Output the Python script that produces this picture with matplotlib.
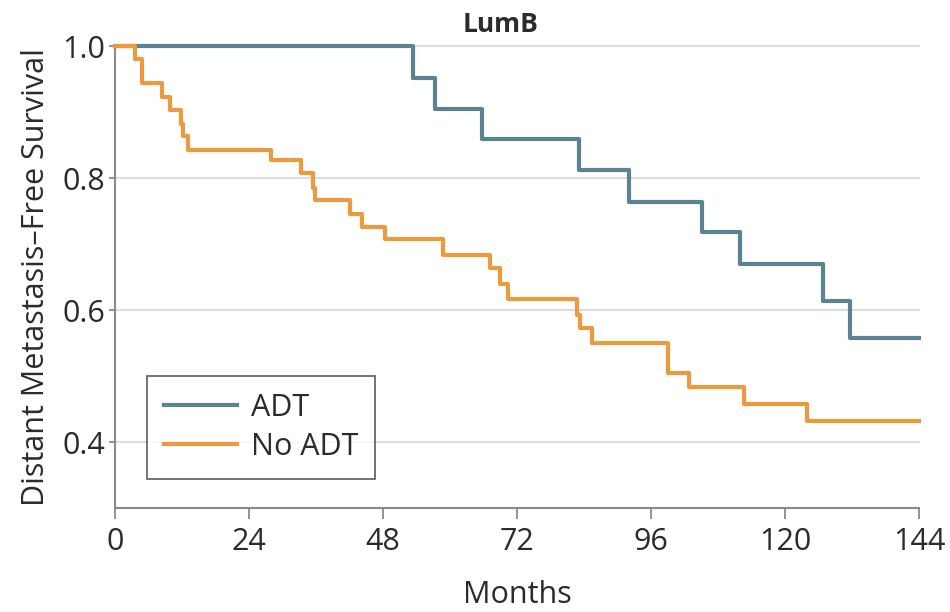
import matplotlib.pyplot as plt
import numpy as np

plt.rcParams['font.family'] = ['Liberation Sans Narrow', 'Open Sans', 'DejaVu Sans']

# Kaplan-Meier steps (months, survival)
adt_t = [0, 53.3, 57.3, 65.7, 83.1, 92.1, 105.1, 111.9, 126.8, 131.7, 144]
adt_s = [1.0, 0.952, 0.904, 0.859, 0.812, 0.763, 0.718, 0.669, 0.614, 0.557, 0.557]

noadt_t = [0, 3.6, 4.9, 8.5, 9.9, 11.8, 12.2, 13.1, 27.9, 33.3, 35.4, 35.8, 42.0,
           44.2, 48.4, 58.7, 67.2, 69.0, 70.4, 82.7, 83.3, 85.5, 99.0, 102.8,
           112.7, 124.0, 144]
noadt_s = [1.0, 0.980, 0.944, 0.922, 0.903, 0.882, 0.863, 0.843, 0.828, 0.807,
           0.785, 0.767, 0.746, 0.726, 0.707, 0.683, 0.663, 0.639, 0.616, 0.593,
           0.572, 0.550, 0.504, 0.483, 0.457, 0.432, 0.432]

xticks = [0, 24, 48, 72, 96, 120, 144]
yticks = [0.4, 0.6, 0.8, 1.0]

blue = '#5b8391'
orange = '#eb9a3e'
txt = '#2b2b2b'

fig = plt.figure(figsize=(9.5, 6.12), dpi=100)
ax = fig.add_axes([115/950, 1-508/612, 804/950, 462/612])

for y in yticks:
    ax.axhline(y, color='#dcdcdc', lw=1.5, zorder=0, clip_on=False)

ax.step(adt_t, adt_s, where='post', color=blue, lw=3, label='ADT', clip_on=False, zorder=3)
ax.step(noadt_t, noadt_s, where='post', color=orange, lw=3, label='No ADT', clip_on=False, zorder=4)

ax.set_xlim(0, 144)
ax.set_ylim(0.3, 1.0)
ax.set_xticks(xticks)
ax.set_yticks(yticks)
ax.set_yticklabels(['%.1f' % v for v in yticks])

for s in ['top', 'right']:
    ax.spines[s].set_visible(False)
for s in ['left', 'bottom']:
    ax.spines[s].set_color('#8a8a8a')
    ax.spines[s].set_linewidth(1.5)
ax.tick_params(axis='x', length=8, width=1.3, color='#8a8a8a', labelsize=22,
               labelcolor=txt, pad=6)
ax.tick_params(axis='y', length=4, width=1.3, color='#8a8a8a', labelsize=22,
               labelcolor=txt, pad=3)

ax.set_xlabel('Months', fontsize=22, color=txt, labelpad=16)
ax.set_ylabel('Distant Metastasis–Free Survival', fontsize=22, color=txt, labelpad=8)
fig.text(501/950, 1-25/612, 'LumB', fontsize=19, fontweight='bold', color=txt,
         ha='center', va='center')

leg = ax.legend(loc='upper left', bbox_to_anchor=((147-115)/804, (508-376)/462),
                fontsize=22, frameon=True, fancybox=False, handlelength=2.4,
                borderpad=0.55, labelspacing=0.3, handletextpad=0.45, borderaxespad=0)
leg.get_frame().set_edgecolor('#333333')
leg.get_frame().set_linewidth(1.2)
for t in leg.get_texts():
    t.set_color(txt)

fig.savefig('out.png', dpi=100)
